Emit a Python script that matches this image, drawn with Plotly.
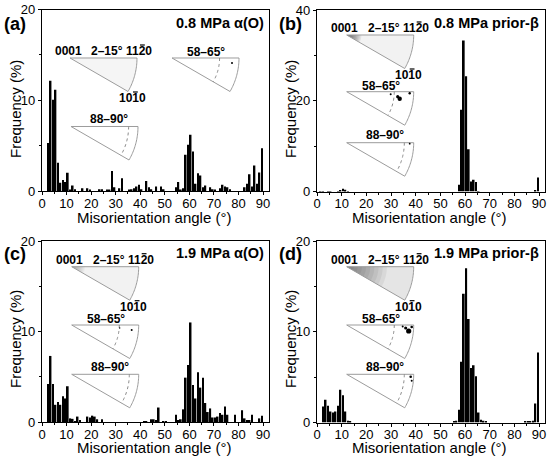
"""
Misorientation angle distributions (alpha(O) and prior-beta) with IPF insets.
"""

import numpy as np
import plotly.graph_objects as go

# bin centres (1 degree bins)
angles = np.arange(0.5, 90, 1.0)

freq_a = [0, 0, 5.3, 12.15, 10.05, 11.15, 3.1, 0.9, 1.2, 1.0,
          2.0, 0.1, 0.6, 0.2, 0, 0, 0.3, 0, 0.3, 0.1,
          0, 0, 0, 0.2, 0.2, 0, 0.1, 0.1, 2.2, 0.4,
          0, 0.3, 1.4, 0, 0, 0.1, 0.2, 0.3, 0.5, 0.7,
          0.2, 0, 1.1, 0.4, 0.2, 0, 0.5, 0, 0.5, 0.2,
          0, 0, 0, 0, 0.4, 1.0, 0.1, 0.3, 4.0, 5.1,
          6.2, 4.35, 0.8, 1.95, 1.7, 0.4, 0.6, 0, 0.4, 0.2,
          0.1, 0, 0.3, 0.7, 0.5, 0.4, 0.2, 0, 0, 0,
          0, 0, 0.4, 0.8, 1.85, 0.5, 2.8, 0.8, 2.05, 4.7]

freq_b = [0, 0.1, 0.1, 0, 0.1, 0.1, 0, 0, 0.1, 0.3,
          0.6, 0.4, 0.1, 0, 0, 0, 0, 0, 0, 0,
          0, 0, 0, 0, 0, 0, 0, 0, 0, 0,
          0, 0, 0, 0, 0, 0, 0, 0, 0, 0,
          0, 0, 0, 0, 0, 0, 0, 0, 0, 0,
          0, 0, 0, 0, 0, 0, 0, 1.5, 18.0, 33.3,
          25.4, 9.3, 2.2, 2.6, 2.1, 0.1, 0, 0, 0, 0,
          0, 0, 0, 0, 0, 0, 0, 0, 0, 0,
          0, 0, 0, 0, 0, 0, 0, 0, 0.3, 3.1]

freq_c = [0, 0, 4.2, 7.3, 4.2, 1.9, 2.2, 1.9, 2.85, 2.6,
          3.95, 0.4, 0.35, 0.1, 0.6, 0.2, 0, 0, 0.6, 0.5,
          0.7, 0.6, 0.3, 0, 0.3, 0, 0, 0, 0, 0,
          0, 0, 0, 0, 0, 0, 0, 0, 0, 0,
          0, 0.1, 0.1, 0, 0.3, 0.3, 0.2, 1.6, 0, 0.1,
          0.1, 0, 0, 0, 0.8, 0.2, 0.3, 1.4, 4.9, 6.3,
          11.0, 4.1, 2.6, 5.5, 3.8, 4.9, 2.1, 1.1, 1.5, 0.5,
          0.5, 0.6, 1.0, 0.8, 1.7, 0.8, 0, 0, 0.8, 0,
          0, 1.3, 0.4, 0.2, 0.2, 0.8, 0, 0, 0.4, 0.7]

freq_d = [0, 0, 1.75, 2.5, 1.85, 1.2, 1.1, 1.2, 1.85, 3.6,
          3.0, 1.2, 0.2, 0.1, 0, 0, 0, 0, 0, 0,
          0, 0, 0, 0, 0, 0, 0, 0, 0, 0,
          0, 0, 0, 0, 0, 0, 0, 0, 0, 0,
          0, 0, 0, 0, 0, 0, 0, 0, 0, 0,
          0, 0, 0, 0, 0, 0.1, 0.2, 1.4, 6.7, 14.2,
          17.0, 11.4, 6.0, 6.3, 5.1, 1.1, 0.3, 0.2, 0.1, 0,
          0, 0, 0, 0, 0, 0, 0, 0, 0, 0,
          0, 0, 0, 0, 0.1, 0.1, 0.1, 0.2, 2.1, 7.7]

panel_letters = ["(a)", "(b)", "(c)", "(d)"]
panel_titles = ["0.8 MPa α(O)", "0.8 MPa prior-β", "1.9 MPa α(O)", "1.9 MPa prior-β"]
y_max = [20, 40, 20, 20]
x_ticks = [0, 10, 20, 30, 40, 50, 60, 70, 80, 90]

W, H = 550, 461
FONT = "Liberation Sans, Arial, sans-serif"


def px(x):
    return x / W


def py(y):
    return 1 - y / H


def sector_path(ax, ay, R, frac=1.0):
    r = R * frac
    t = np.radians(np.linspace(0, 30, 25))
    pts = [(ax, ay)] + [(ax + r * np.cos(a), ay + r * np.sin(a)) for a in t]
    return "M " + " L ".join(f"{px(x):.5f},{py(y):.5f}" for x, y in pts) + " Z"


def arc_path(ax, ay, r):
    t = np.radians(np.linspace(0, 30, 25))
    pts = [(ax + r * np.cos(a), ay + r * np.sin(a)) for a in t]
    return "M " + " L ".join(f"{px(x):.5f},{py(y):.5f}" for x, y in pts)


def overline(fig, cx, cy):
    # bar over the third digit of a 4-digit bold 12px index
    fig.add_shape(type="line", xref="paper", yref="paper",
                  x0=px(cx + 1), x1=px(cx + 5.8), y0=py(cy - 6), y1=py(cy - 6),
                  line=dict(color="black", width=1.2))


# panel pixel offsets and axis domains
offsets = [(0, 0), (275, 0), (0, 230), (275, 230)]
x_dom = [(42, 269), (317, 545), (42, 269), (317, 545)]
y_dom = [(9.5, 191), (10, 191.5), (241, 422), (241, 422.5)]

# inset apex positions relative to the panel offset
ipf_apex = [
    [(70, 58), (172, 58), (71, 126.5)],
    [(71.7, 35), (71.7, 91.7), (71.7, 142.7)],
    [(71.7, 36.7), (71.7, 95), (71.7, 144.3)],
    [(71.7, 36.7), (71.7, 95), (71.7, 144.3)],
]
# shading of the 2-15 deg IPF: base alpha, dark core reach, core alpha per step
ipf_shade = [
    (0.04, 0.0, 0.0),
    (0.05, 0.22, 0.07),
    (0.05, 0.2, 0.03),
    (0.1, 0.6, 0.055),
]
# density spots (inset index, dx, dy, radius)
ipf_spots = [
    [(1, 60, 5, 1.0)],
    [(1, 53, 7, 2.2), (1, 51, 5, 1.6), (1, 44, 2.5, 1.0), (1, 63, 1.5, 1.2), (2, 63, 1, 0.9)],
    [(1, 60, 5, 1.0), (1, 48, 3, 0.7)],
    [(1, 62, 6, 2.6), (1, 59, 3, 1.6), (1, 65, 2, 1.3), (1, 56, 1.5, 1.0),
     (2, 64, 2.5, 1.3), (2, 65, 6.5, 1.0)],
]
R_IPF = 67

fig = go.Figure()
series = [freq_a, freq_b, freq_c, freq_d]

for i, vals in enumerate(series):
    n = "" if i == 0 else str(i + 1)
    fig.add_trace(go.Bar(
        x=angles, y=vals, width=0.68,
        marker=dict(color="black", line=dict(width=0)),
        xaxis="x" + n, yaxis="y" + n, showlegend=False
    ))

    x0, x1 = x_dom[i]
    y0, y1 = y_dom[i]
    axis_common = dict(
        showline=True, linecolor="black", linewidth=1.2, mirror=True,
        ticks="outside", ticklen=3, tickwidth=1.1, tickcolor="black",
        showgrid=False, zeroline=False, automargin=False,
        tickfont=dict(family=FONT, size=13, color="black"),
    )
    fig.update_layout({
        "xaxis" + n: dict(
            axis_common, domain=[px(x0), px(x1)], range=[0, 92.4],
            tickvals=x_ticks, anchor="y" + n, ticklabelstandoff=-3,
            minor=dict(dtick=5, tick0=0, ticks="outside", ticklen=2, tickcolor="black"),
        ),
        "yaxis" + n: dict(
            axis_common, domain=[py(y1), py(y0)], range=[0, y_max[i]],
            dtick=y_max[i] / 2, anchor="x" + n,
            minor=dict(dtick=y_max[i] / 4, ticks="outside", ticklen=2, tickcolor="black"),
        ),
    })

    ox, oy = offsets[i]
    ann = dict(xref="paper", yref="paper", showarrow=False,
               xanchor="center", yanchor="middle")

    # axis titles
    fig.add_annotation(ann, x=px(ox + 154), y=py(oy + 217), text="Misorientation angle (°)",
                       font=dict(family=FONT, size=15, color="black"))
    fig.add_annotation(ann, x=px(ox + 15), y=py(oy + 109), text="Frequency (%)", textangle=-90,
                       font=dict(family=FONT, size=15, color="black"))
    # panel letter and condition
    fig.add_annotation(ann, x=px(ox + 15), y=py(oy + 24), text="<b>%s</b>" % panel_letters[i],
                       font=dict(family=FONT, size=18, color="black"))
    fig.add_annotation(ann, x=px(ox + 266), y=py(oy + 23), xanchor="right",
                       text="<b>%s</b>" % panel_titles[i],
                       font=dict(family=FONT, size=14.5, color="black"))

    # IPF insets
    lab_font = dict(family=FONT, size=12, color="black")
    for k, (ax, ay) in enumerate(ipf_apex[i]):
        ax += ox
        ay += oy
        if k == 0:
            base, reach, step_alpha = ipf_shade[i]
            fig.add_shape(type="path", path=sector_path(ax, ay, R_IPF),
                          xref="paper", yref="paper", line=dict(width=0),
                          fillcolor="rgba(0,0,0,%.3f)" % base)
            # stacked translucent wedges give a gradient toward 0001
            for frac in np.linspace(reach, 0.04, 10) if reach else []:
                fig.add_shape(type="path", path=sector_path(ax, ay, R_IPF, frac),
                              xref="paper", yref="paper", line=dict(width=0),
                              fillcolor="rgba(0,0,0,%.3f)" % step_alpha)
        fig.add_shape(type="path", path=sector_path(ax, ay, R_IPF),
                      xref="paper", yref="paper",
                      line=dict(color="#9c9c9c", width=1))
        if k == 1:
            fig.add_shape(type="path", path=arc_path(ax, ay, R_IPF * 0.71),
                          xref="paper", yref="paper",
                          line=dict(color="#8a8a8a", width=1, dash="dot"))
        if k == 2:
            fig.add_shape(type="path", path=arc_path(ax, ay, R_IPF * 0.86),
                          xref="paper", yref="paper",
                          line=dict(color="#8a8a8a", width=1, dash="dot"))

        if k == 0:
            fig.add_annotation(ann, x=px(ax - 2), y=py(ay - 7), text="<b>0001</b>", font=lab_font)
            fig.add_annotation(ann, x=px(ax + 37), y=py(ay - 7), text="<b>2–15°</b>", font=lab_font)
            fig.add_annotation(ann, x=px(ax + 69), y=py(ay - 7), text="<b>1120</b>", font=lab_font)
            fig.add_annotation(ann, x=px(ax + 62), y=py(ay + 40), text="<b>1010</b>", font=lab_font)
            overline(fig, ax + 69, ay - 7)
            overline(fig, ax + 62, ay + 40)
        elif k == 1:
            fig.add_annotation(ann, x=px(ax + 34), y=py(ay - 6), text="<b>58–65°</b>", font=lab_font)
        else:
            fig.add_annotation(ann, x=px(ax + 38), y=py(ay - 7.5), text="<b>88–90°</b>", font=lab_font)

    for k, dx, dy, rr in ipf_spots[i]:
        ax, ay = ipf_apex[i][k]
        cx, cy = ax + ox + dx, ay + oy + dy
        fig.add_shape(type="circle", xref="paper", yref="paper",
                      x0=px(cx - rr), x1=px(cx + rr), y0=py(cy + rr), y1=py(cy - rr),
                      fillcolor="black", line=dict(width=0))

fig.update_layout(
    width=W, height=H, autosize=False,
    margin=dict(l=0, r=0, t=0, b=0),
    paper_bgcolor="white", plot_bgcolor="white",
    bargap=0.3,
    font=dict(family=FONT, color="black"),
)

# page body margin would shift the fixed-size figure
fig.write_html("out.html", config={"displayModeBar": False},
               post_script="document.body.style.margin='0px';")
